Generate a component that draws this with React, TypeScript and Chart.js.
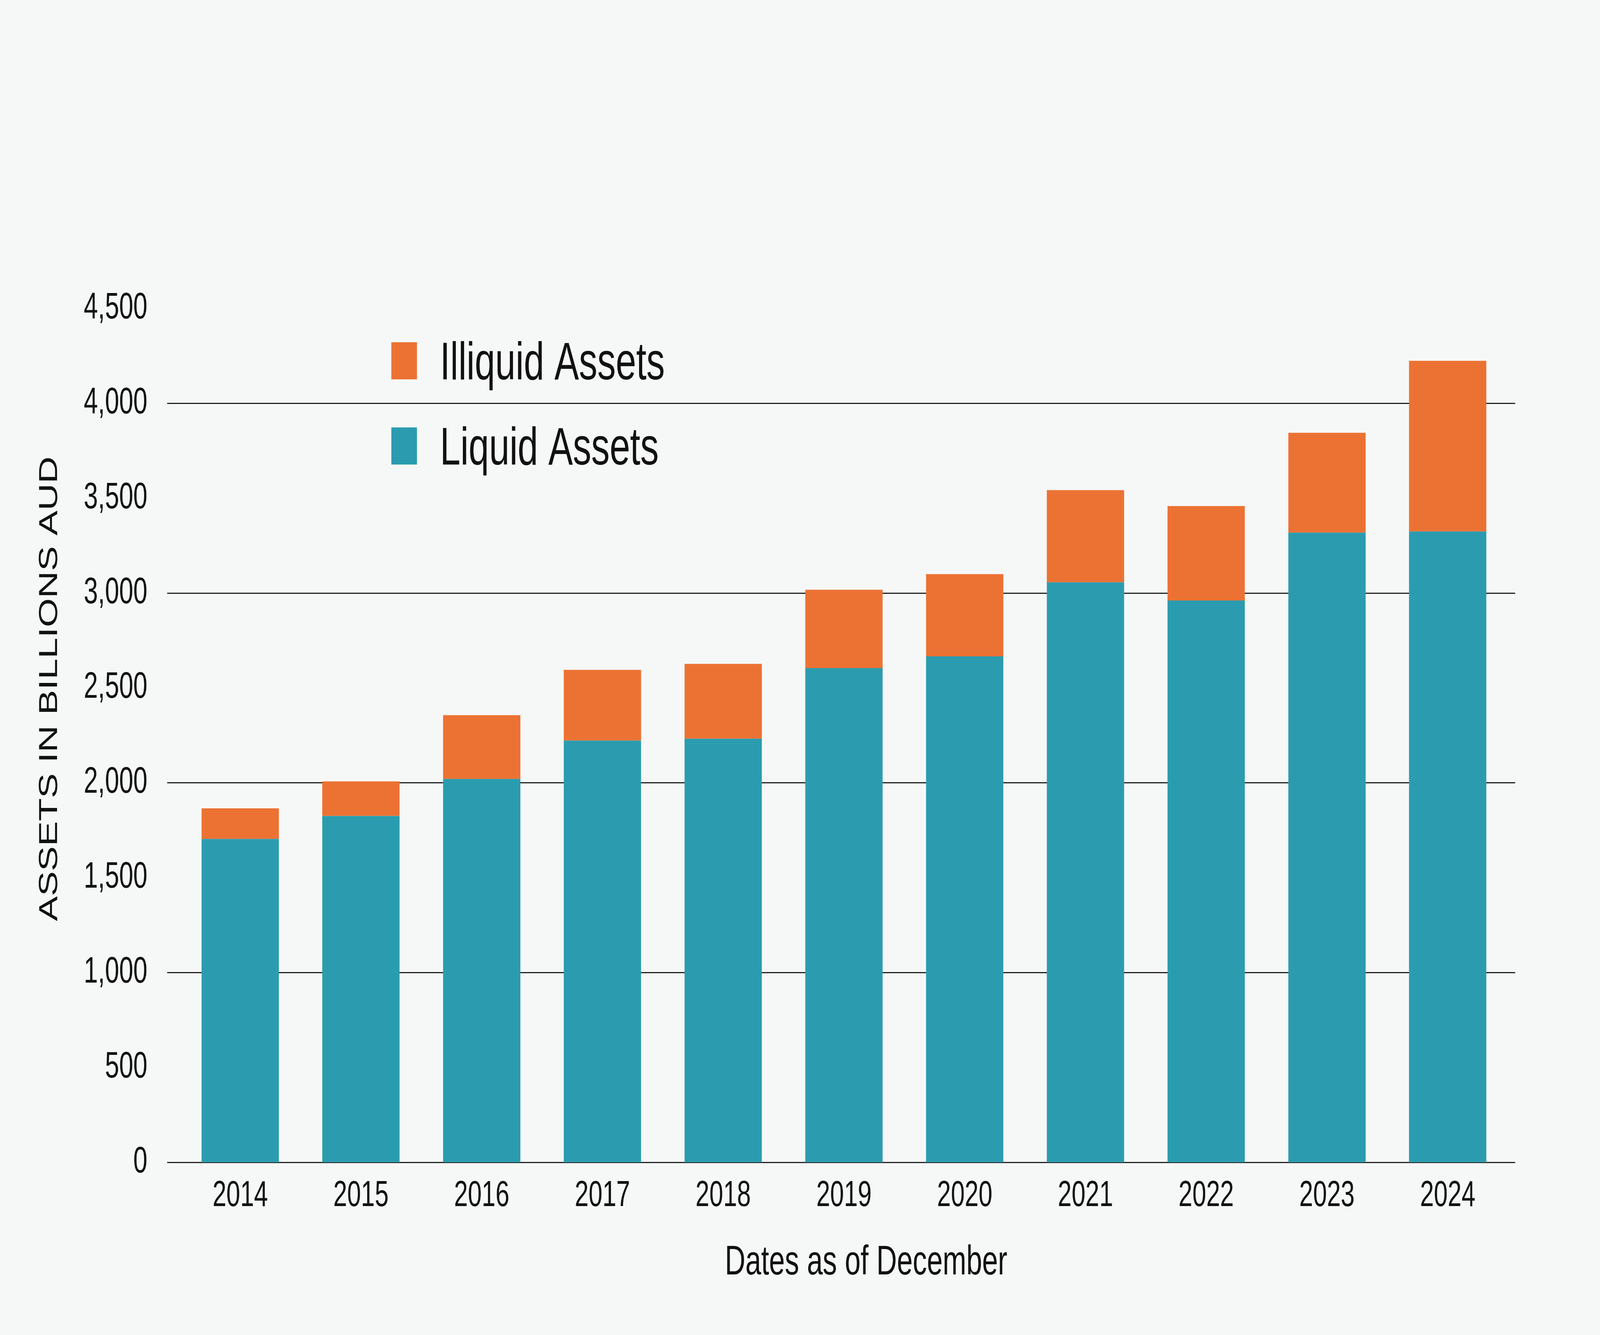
import React, { useEffect, useRef } from 'react';
import { Chart, registerables } from 'chart.js';

Chart.register(...registerables);

// chart values (billions AUD)
const years = ['2014', '2015', '2016', '2017', '2018', '2019', '2020', '2021', '2022', '2023', '2024'];
const liquidAssets = [1704, 1825, 2020, 2222, 2232, 2604, 2666, 3056, 2960, 3318, 3324];
const illiquidAssets = [161, 182, 336, 373, 394, 413, 433, 486, 498, 526, 899];
const yMin = 0;
const yMax = 4500;
const yStep = 500;
const gridEvery = 1000;

const BG = '#f6f8f7';
const TEAL = '#2b9caf';
const ORANGE = '#ec7234';
const INK = '#111111';
const GRID = '#222222';
const FONT = "'Liberation Sans', Arial, sans-serif";

// the chart is laid out on the reference's 5917x3417 grid
const W = 5917;
const H = 3417;

const decorPlugin = {
  id: 'decor',
  beforeDatasetsDraw(chart: any) {
    const { ctx, chartArea, scales } = chart;
    const y = scales.y;
    ctx.save();
    ctx.strokeStyle = GRID;
    ctx.lineWidth = 3;
    y.ticks.forEach((t: any) => {
      if (t.value % gridEvery !== 0) return;
      const py = Math.round(y.getPixelForValue(t.value)) + 0.5;
      ctx.beginPath();
      ctx.moveTo(chartArea.left - 47, py);
      ctx.lineTo(chartArea.right + 26, py);
      ctx.stroke();
    });
    ctx.restore();
  },
  afterDraw(chart: any) {
    const { ctx } = chart;
    ctx.save();
    ctx.fillStyle = INK;

    // y axis title
    ctx.save();
    ctx.translate(211, 1763);
    ctx.rotate(-Math.PI / 2);
    ctx.font = `96px ${FONT}`;
    ctx.textAlign = 'center';
    ctx.textBaseline = 'alphabetic';
    ctx.fillText('ASSETS IN BILLIONS AUD', 0, 0);
    ctx.restore();

    // x axis title
    ctx.font = `105px ${FONT}`;
    ctx.textAlign = 'center';
    ctx.textBaseline = 'alphabetic';
    ctx.fillText('Dates as of December', 3203, 3262);

    // legend, top series first
    const items = [...chart.data.datasets].reverse();
    ctx.font = `136px ${FONT}`;
    ctx.textAlign = 'left';
    items.forEach((ds: any, i: number) => {
      const top = 876 + i * 218;
      ctx.fillStyle = ds.backgroundColor;
      ctx.fillRect(1447, top, 95, 95);
      ctx.fillStyle = INK;
      ctx.fillText(ds.label, 1627, top + 95);
    });
    ctx.restore();
  },
};

const App: React.FC = () => {
  const chartRef = useRef<HTMLCanvasElement | null>(null);

  useEffect(() => {
    if (!chartRef.current) return;
    const ctx = chartRef.current.getContext('2d');

    const chartInstance = new Chart(ctx as any, {
      type: 'bar',
      data: {
        labels: years,
        datasets: [
          {
            label: 'Liquid Assets',
            data: liquidAssets,
            backgroundColor: TEAL,
            borderWidth: 0,
            categoryPercentage: 1,
            barPercentage: 0.64,
          },
          {
            label: 'Illiquid Assets',
            data: illiquidAssets,
            backgroundColor: ORANGE,
            borderWidth: 0,
            categoryPercentage: 1,
            barPercentage: 0.64,
          },
        ],
      },
      options: {
        responsive: false,
        animation: false,
        layout: { padding: { left: 0, right: 340, top: 789, bottom: 0 } },
        plugins: {
          legend: { display: false },
          tooltip: { enabled: false },
          title: { display: false },
        },
        scales: {
          x: {
            stacked: true,
            offset: true,
            grid: { display: false, drawTicks: false },
            border: { display: false },
            ticks: {
              color: INK,
              font: { family: FONT, size: 92 },
              padding: 31,
              maxRotation: 0,
              autoSkip: false,
            },
            afterFit: (scale: any) => {
              scale.height = 442;
            },
          },
          y: {
            stacked: true,
            min: yMin,
            max: yMax,
            grid: { display: false, drawTicks: false },
            border: { display: false },
            ticks: {
              stepSize: yStep,
              color: INK,
              font: { family: FONT, size: 94 },
              padding: 120,
              callback: (v: any) => Number(v).toLocaleString('en-US'),
            },
            afterFit: (scale: any) => {
              scale.width = 665;
            },
          },
        },
      } as any,
      plugins: [decorPlugin],
    });

    return () => {
      chartInstance.destroy();
    };
  }, []);

  // fit the fixed-size drawing into whatever viewport we actually get
  const sx = window.innerWidth / W;
  const sy = window.innerHeight / H;

  return (
    <div style={{ position: 'fixed', left: 0, top: 0, width: '100vw', height: '100vh', background: BG, overflow: 'hidden' }}>
      <div
        style={{
          width: W,
          height: H,
          transform: `scale(${sx}, ${sy})`,
          transformOrigin: '0 0',
        }}
      >
        <canvas ref={chartRef} width={W} height={H} style={{ display: 'block' }} />
      </div>
    </div>
  );
};

export default App;
